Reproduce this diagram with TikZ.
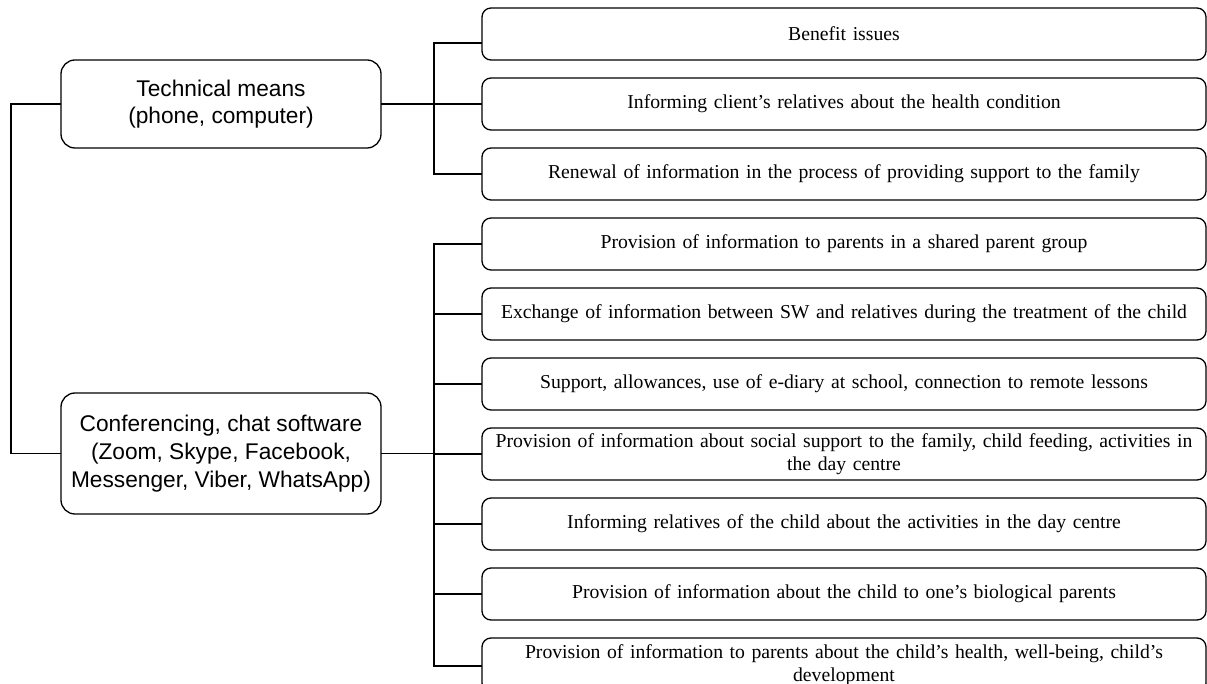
\documentclass[tikz,border=0pt]{standalone}
\usepackage{fontspec}
\setmainfont{Liberation Serif}
\setsansfont{Liberation Sans}
\usetikzlibrary{positioning}

\begin{document}
\begin{tikzpicture}[x=1pt, y=-1pt, node distance=18pt,
    item/.style={draw, line width=1.3pt, rounded corners=9pt, minimum width=724pt,
      minimum height=52pt, text width=718pt, align=center, inner sep=2pt, outer sep=0pt,
      font=\fontsize{19.7}{23.5}\selectfont},
    means/.style={draw, line width=1.3pt, rounded corners=14pt, minimum width=320pt,
      outer sep=0pt, align=center, font=\sffamily\fontsize{22.7}{27.7}\selectfont}]
    \useasboundingbox (0,0) rectangle (1207,684);
    \clip (0,0) rectangle (1207,684);
        % left column
        \node[means, minimum height=88pt] (tech) at (221,104) {Technical means\\(phone, computer)};
        \node[means, minimum height=121pt] (conf) at (221,453.5) {Conferencing, chat software\\(Zoom, Skype, Facebook,\\Messenger, Viber, WhatsApp)};
        % right column
        \node[item] (benefit) at (844,34) {Benefit issues};
        \node[item, below=of benefit] (health) {Informing client's relatives about the health condition};
        \node[item, below=of health] (renewal) {Renewal of information in the process of providing support to the family};
        \node[item, below=of renewal] (group) {Provision of information to parents in a shared parent group};
        \node[item, below=of group] (exchange) {Exchange of information between SW and relatives during the treatment of the child};
        \node[item, below=of exchange] (school) {Support, allowances, use of e-diary at school, connection to remote lessons};
        \node[item, below=of school] (feeding) {Provision of information about social support to the family, child feeding, activities in\\the day centre};
        \node[item, below=of feeding] (dayctr) {Informing relatives of the child about the activities in the day centre};
        \node[item, below=of dayctr] (bio) {Provision of information about the child to one's biological parents};
        \node[item, below=of bio, minimum height=54pt, font=\fontsize{19.7}{22.5}\selectfont] (develop) {Provision of information to parents about the child's health, well-being, child's\\development};
        % connectors
        \coordinate (j1) at (434,104);
        \coordinate (j2) at (434,453.5);
        \draw[line width=1.3pt] (tech.west) -- ++(-50,0) |- (conf.west);
        \draw[line width=1.3pt] (tech.east) -- (tech.east -| health.west);
        \draw[line width=1.3pt] ([yshift=-9pt]benefit.west) -| (j1) |- (renewal.west);
        \draw[line width=1.3pt] (conf.east) -- (conf.east -| j2);
        \draw[line width=1.3pt] (group.west) -| (j2) |- ([yshift=-1pt]develop.west);
        \foreach \n in {exchange, school, feeding, dayctr, bio}
            \draw[line width=1.3pt] (\n.west) -- (\n.west -| j2);
\end{tikzpicture}
\end{document}
